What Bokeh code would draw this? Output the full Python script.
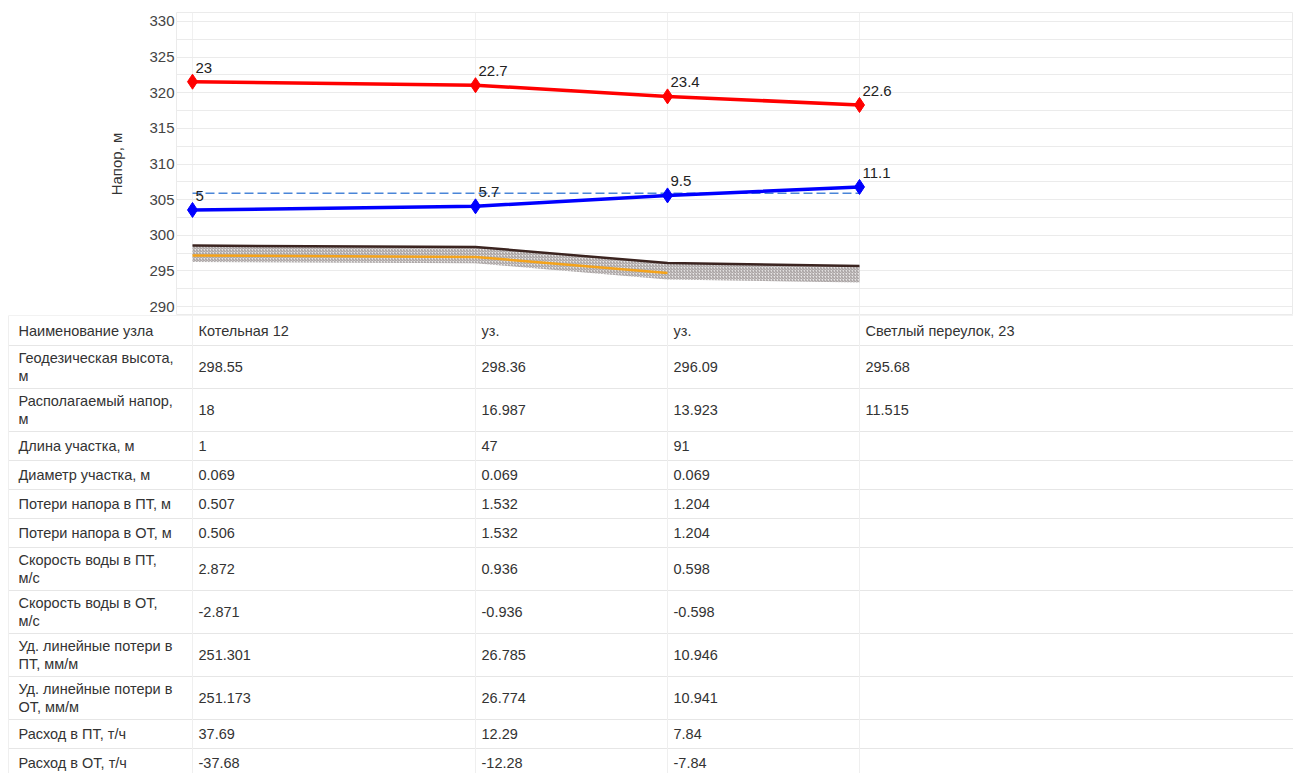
from bokeh.plotting import figure
from bokeh.models import Range1d, SingleIntervalTicker, FixedTicker, ColumnDataSource
from bokeh.core.properties import value
from bokeh.embed import file_html
from bokeh.resources import INLINE

# ---------------- data ----------------
node_names = ["Котельная 12", "уз.", "уз.", "Светлый переулок, 23"]
geo_height = [298.55, 298.36, 296.09, 295.68]
supply_pressure = [23, 22.7, 23.4, 22.6]
return_pressure = [5, 5.7, 9.5, 11.1]
static_head = 305.9
pipe_elev = [297.15, 296.96, 294.69]
soil_depth = 2.3
avail_head = [18, 16.987, 13.923, 11.515]
seg_len = [1, 47, 91]
seg_diam = [0.069, 0.069, 0.069]
loss_supply = [0.507, 1.532, 1.204]
loss_return = [0.506, 1.532, 1.204]
vel_supply = [2.872, 0.936, 0.598]
vel_return = [-2.871, -0.936, -0.598]
spec_loss_supply = [251.301, 26.785, 10.946]
spec_loss_return = [251.173, 26.774, 10.941]
flow_supply = [37.69, 12.29, 7.84]
flow_return = [-37.68, -12.28, -7.84]

row_labels = [
    "Наименование узла",
    "Геодезическая высота,\nм",
    "Располагаемый напор,\nм",
    "Длина участка, м",
    "Диаметр участка, м",
    "Потери напора в ПТ, м",
    "Потери напора в ОТ, м",
    "Скорость воды в ПТ,\nм/с",
    "Скорость воды в ОТ,\nм/с",
    "Уд. линейные потери в\nПТ, мм/м",
    "Уд. линейные потери в\nОТ, мм/м",
    "Расход в ПТ, т/ч",
    "Расход в ОТ, т/ч",
]
row_values = [node_names, geo_height, avail_head, seg_len, seg_diam, loss_supply,
              loss_return, vel_supply, vel_return, spec_loss_supply, spec_loss_return,
              flow_supply, flow_return]

# ---------------- layout ----------------
W = 1293
col_edges = [8, 192, 475, 667, 859, W]     # table column borders (px)
node_x = col_edges[1:5]                    # node positions align with table columns
FONT = "Liberation Sans"
FRAME_LEFT = 176

supply_head = [g + s for g, s in zip(geo_height, supply_pressure)]
return_head = [g + r for g, r in zip(geo_height, return_pressure)]
soil_bottom = [g - soil_depth for g in geo_height]

# ---------------- chart ----------------
CH = 315
p = figure(width=W, height=CH, output_backend="svg", toolbar_location=None,
           x_range=Range1d(FRAME_LEFT, W), y_range=Range1d(288.737, 331.263),
           min_border_left=FRAME_LEFT, min_border_right=0, min_border_top=12,
           min_border_bottom=0)
p.outline_line_color = "#ebebeb"
p.background_fill_color = "white"
p.border_fill_color = "white"
p.xaxis.visible = False
p.xgrid.ticker = FixedTicker(ticks=node_x)
p.xgrid.grid_line_color = "#f0f0f0"
p.yaxis.ticker = SingleIntervalTicker(interval=5, num_minor_ticks=2)
p.ygrid.grid_line_color = "#ebebeb"
p.ygrid.minor_grid_line_color = "#ebebeb"
p.yaxis.axis_line_color = None
p.yaxis.major_tick_line_color = None
p.yaxis.minor_tick_line_color = None
p.yaxis.major_tick_out = 0
p.yaxis.minor_tick_out = 0
p.yaxis.major_label_standoff = 2
p.yaxis.major_label_text_font = FONT
p.yaxis.major_label_text_font_size = "15px"
p.yaxis.major_label_text_color = "#444444"
p.yaxis.axis_label = "Напор, м"
p.yaxis.axis_label_text_font = FONT
p.yaxis.axis_label_text_font_size = "15px"
p.yaxis.axis_label_text_font_style = "normal"
p.yaxis.axis_label_text_color = "#333333"
p.yaxis.axis_label_standoff = 21

# soil band
p.varea(x=node_x, y1=soil_bottom, y2=geo_height, fill_color="#d9d5d5", fill_alpha=0.6,
        hatch_pattern="right_diagonal_line", hatch_scale=3, hatch_weight=0.7,
        hatch_color="#6e6464", hatch_alpha=0.9)
p.line(x=node_x, y=geo_height, line_color="#3b2420", line_width=2.5)
p.line(x=node_x[:3], y=pipe_elev, line_color="#f5a31a", line_width=2.5)

# static head
p.line(x=[node_x[0], node_x[-1]], y=[static_head, static_head], line_color="#4a86d8",
       line_width=1.5, line_dash="9 4")

# supply / return
p.line(x=node_x, y=supply_head, line_color="#ff0000", line_width=3.5)
p.scatter(x=node_x, y=supply_head, marker="diamond", size=15, fill_color="#ff0000",
          line_color="#ff0000")
p.line(x=node_x, y=return_head, line_color="#0000ff", line_width=3.5)
p.scatter(x=node_x, y=return_head, marker="diamond", size=15, fill_color="#0000ff",
          line_color="#0000ff")

lab_src = ColumnDataSource(dict(
    x=node_x + node_x,
    y=supply_head + return_head,
    t=[str(v) for v in supply_pressure] + [str(v) for v in return_pressure],
))
p.text(x="x", y="y", text="t", source=lab_src, x_offset=3, y_offset=-14,
       text_align="left", text_baseline="middle", text_font=value(FONT),
       text_font_size="15px", text_color="#222222")

# ---------------- table ----------------
TH = 773 - CH
t = figure(width=W, height=TH, output_backend="svg", toolbar_location=None,
           x_range=Range1d(0, W), y_range=Range1d(TH, 0),
           min_border=0, min_border_left=0, min_border_right=0,
           min_border_top=0, min_border_bottom=0)
t.axis.visible = False
t.grid.visible = False
t.outline_line_color = None
t.background_fill_color = "white"
t.border_fill_color = "white"

row_h = [15 + 14 * (lab.count("\n") + 1) for lab in row_labels]
row_h[0] = 30
tops = [0]
for h in row_h:
    tops.append(tops[-1] + h)

cx, cy, ct = [], [], []
pad_first, pad = 10, 6
for i, lab in enumerate(row_labels):
    ymid = (tops[i] + tops[i + 1]) / 2.0
    cx.append(col_edges[0] + pad_first)
    cy.append(ymid)
    ct.append(lab)
    for j, v in enumerate(row_values[i]):
        cx.append(col_edges[j + 1] + pad)
        cy.append(ymid)
        ct.append(str(v))

# borders
hy = [y for y in tops if y < TH]
x0s = [col_edges[0]] * len(hy)
t.segment(x0=x0s, y0=hy, x1=[W] * len(hy), y1=hy, line_color="#e6e6e6", line_width=1)
vx = col_edges[:5]
t.segment(x0=vx, y0=[0] * len(vx), x1=vx, y1=[TH] * len(vx), line_color="#efefef", line_width=1)

t.text(x=cx, y=cy, text=ct, text_align="left", text_baseline="middle",
       text_font=value(FONT), text_font_size="14.5px", text_color="#333333",
       text_line_height=1.1)

open("out.html", "w").write(file_html([p, t], INLINE))
